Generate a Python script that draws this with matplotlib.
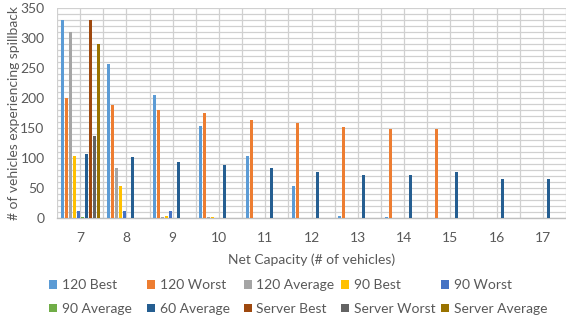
import matplotlib
matplotlib.use("Agg")
import matplotlib.pyplot as plt
import numpy as np

plt.rcParams['font.family'] = ['Lato', 'DejaVu Sans']

# net capacity categories
capacities = ["7", "8", "9", "10", "11", "12", "13", "14", "15", "16", "17"]

# vehicles experiencing spillback per scenario
best_120 = [330, 257, 205, 153, 103, 53, 3, 1, 0, 0, 0]
worst_120 = [200, 189, 180, 175, 164, 159, 152, 148, 148, 0, 0]
average_120 = [310, 83, 1, 1, 0, 0, 0, 0, 0, 0, 0]
best_90 = [103, 53, 3, 1, 0, 0, 0, 0, 0, 0, 0]
worst_90 = [12, 11, 11, 0, 0, 0, 0, 0, 0, 0, 0]
average_90 = [1, 0, 0, 0, 0, 0, 0, 0, 0, 0, 0]
average_60 = [107, 102, 94, 89, 83, 77, 72, 72, 77, 65, 65]
server_best = [330, 0, 0, 0, 0, 0, 0, 0, 0, 0, 0]
server_worst = [137, 0, 0, 0, 0, 0, 0, 0, 0, 0, 0]
server_average = [290, 0, 0, 0, 0, 0, 0, 0, 0, 0, 0]

series = [
    ("120 Best", best_120, "#5B9BD5"),
    ("120 Worst", worst_120, "#ED7D31"),
    ("120 Average", average_120, "#A5A5A5"),
    ("90 Best", best_90, "#FFC000"),
    ("90 Worst", worst_90, "#4472C4"),
    ("90 Average", average_90, "#70AD47"),
    ("60 Average", average_60, "#255E91"),
    ("Server Best", server_best, "#9E480E"),
    ("Server Worst", server_worst, "#636363"),
    ("Server Average", server_average, "#997300"),
]

text_color = "#595959"
grid_color = "#d0d0d0"

fig = plt.figure(figsize=(5.66, 3.22), dpi=100)
ax = fig.add_axes([57 / 566, 1 - 218 / 322, 509 / 566, 210 / 322])

x = np.arange(len(capacities))
step = 0.0864
width = 0.065
handles = []
for k, (name, values, color) in enumerate(series):
    bars = ax.bar(x + (k - 4.5) * step, values, width=width, color=color,
                  label=name, zorder=3)
    handles.append(bars)

ax.set_xlim(-0.5, len(capacities) - 0.5)
ax.set_ylim(0, 350)
ax.set_yticks(np.arange(0, 351, 50))
ax.set_yticks(np.arange(0, 351, 10), minor=True)
ax.set_xticks(x, capacities)
ax.set_xticks(np.arange(-0.5, len(capacities), 0.5), minor=True)

ax.grid(True, which="both", color=grid_color, linewidth=0.9, zorder=0)
ax.tick_params(which="both", length=0)
ax.tick_params(axis="x", pad=10, labelsize=10, labelcolor=text_color)
ax.tick_params(axis="y", pad=9, labelsize=10, labelcolor=text_color)

for side in ["top", "right", "left"]:
    ax.spines[side].set_visible(False)
ax.spines["bottom"].set_color("#bfbfbf")
ax.spines["bottom"].set_linewidth(1.0)

ax.set_xlabel("Net Capacity (# of vehicles)", fontsize=10, color=text_color,
              labelpad=7)
ax.set_ylabel("# of vehicles experiencing spillback", fontsize=10,
              color=text_color, labelpad=0.5)

# legend laid out as 5 evenly spaced columns of two rows
col_x = [49, 147, 244, 341, 441]
for j, cx in enumerate(col_x):
    leg = fig.legend(handles=[handles[j], handles[j + 5]],
                     loc="upper left", bbox_to_anchor=(cx / 566, 1 - 279 / 322),
                     frameon=False, fontsize=10, handlelength=0.6,
                     handleheight=0.6, handletextpad=0.3, labelspacing=0.85,
                     borderpad=0, borderaxespad=0)
    for t in leg.get_texts():
        t.set_color(text_color)

fig.savefig("out.png", dpi=100)
